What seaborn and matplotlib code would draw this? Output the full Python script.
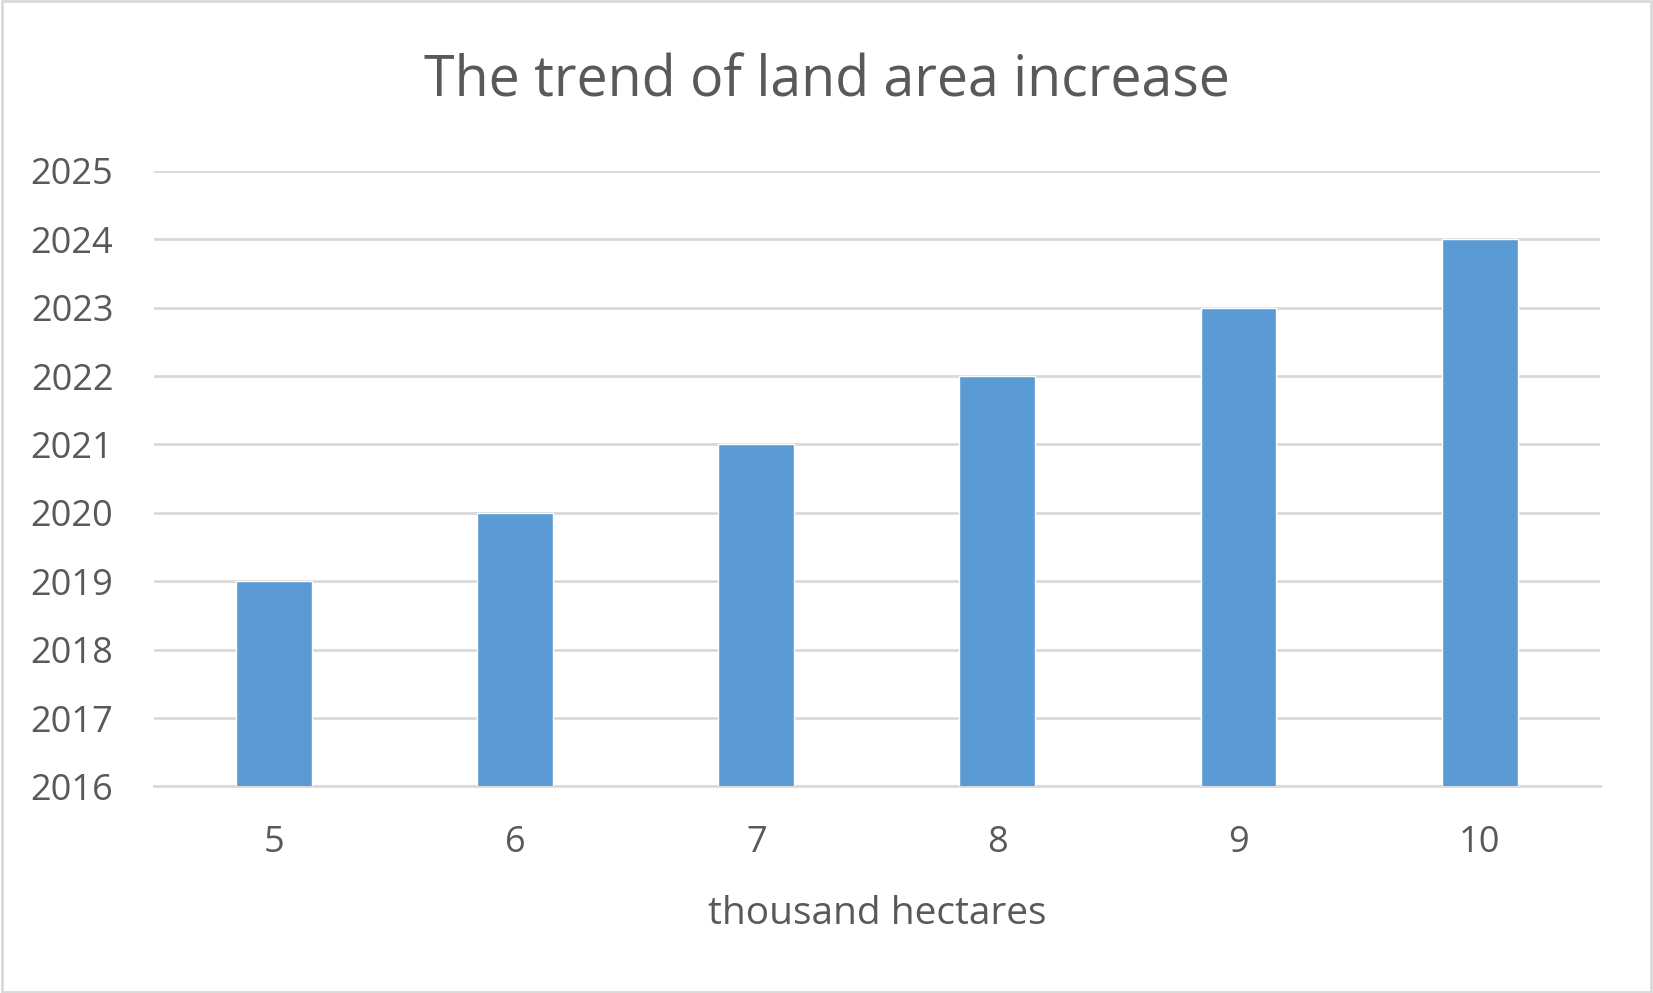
import matplotlib
matplotlib.use("Agg")
import matplotlib.pyplot as plt
import seaborn as sns
import pandas as pd

categories = ["5", "6", "7", "8", "9", "10"]
values = [2019, 2020, 2021, 2022, 2023, 2024]
y_ticks = [2016, 2017, 2018, 2019, 2020, 2021, 2022, 2023, 2024, 2025]

title = "The trend of land area increase"
x_label = "thousand hectares"

sns.set_theme(style="white")
plt.rcParams["font.family"] = ["Open Sans", "DejaVu Sans"]

text_color = "#595959"
grid_color = "#D9D9D9"
bar_color = "#5B9BD5"

df = pd.DataFrame({"cat": categories, "val": values})

fig = plt.figure(figsize=(16.53, 9.93), dpi=100)
fig.patch.set_facecolor("white")
ax = fig.add_axes([0.093, 0.208, 0.875, 0.620])

sns.barplot(data=df, x="cat", y="val", color=bar_color, width=0.315,
            saturation=1, ax=ax, zorder=3)

ax.set_ylim(y_ticks[0], y_ticks[-1])
ax.set_yticks(y_ticks)
ax.set_yticklabels([str(t) for t in y_ticks])
ax.set_xlim(-0.5, len(categories) - 0.5)

ax.yaxis.grid(True, color=grid_color, linewidth=2)
ax.set_axisbelow(True)
for s in ["top", "right", "left"]:
    ax.spines[s].set_visible(False)
ax.spines["bottom"].set_color(grid_color)
ax.spines["bottom"].set_linewidth(2)

ax.tick_params(axis="both", length=0, colors=text_color, labelsize=26)
ax.tick_params(axis="y", pad=29)
ax.tick_params(axis="x", pad=28)
ax.set_ylabel("")
ax.set_xlabel(x_label, fontsize=28, color=text_color, labelpad=24)

fig.text(0.5, 0.917, title, ha="center", va="center", fontsize=40, color=text_color)

border = plt.Rectangle((0.001, 0.001), 0.998, 0.998, transform=fig.transFigure,
                       fill=False, edgecolor="#D9D9D9", linewidth=2)
fig.add_artist(border)

fig.savefig("out.png", dpi=100)
